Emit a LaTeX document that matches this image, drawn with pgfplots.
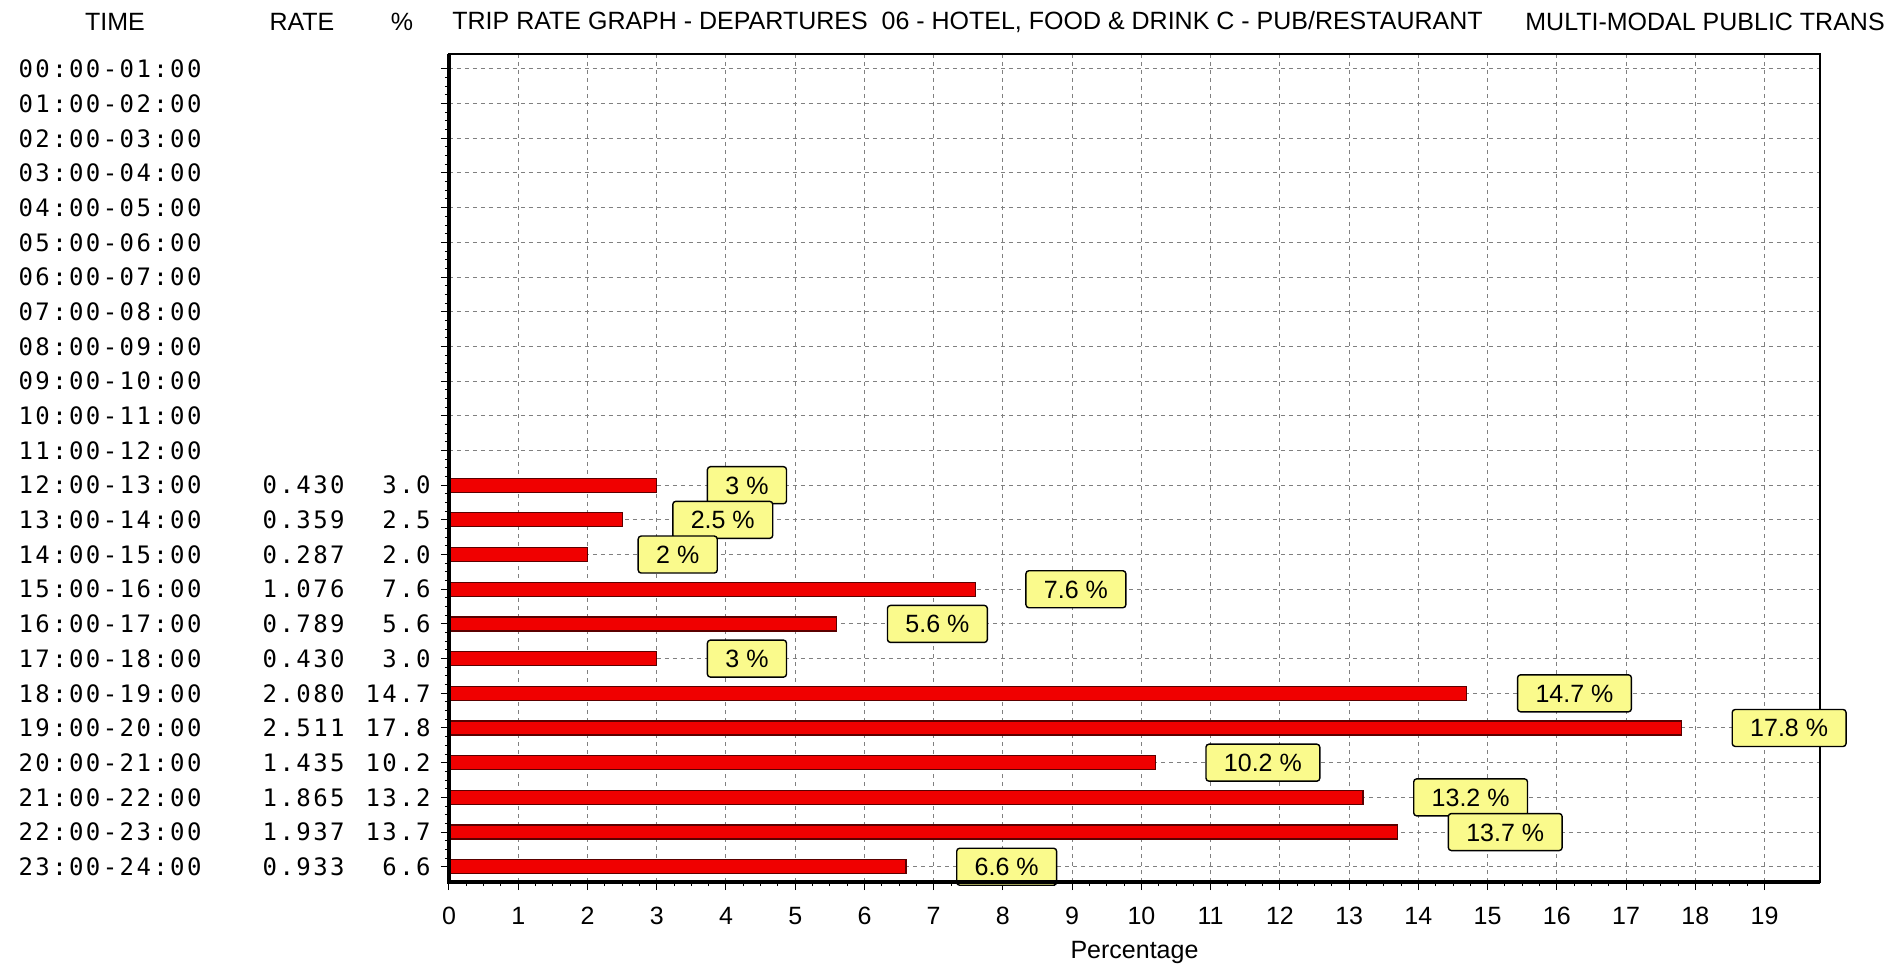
\documentclass[border=0pt]{standalone}
\usepackage{pgfplots}
\pgfplotsset{compat=1.18}
\usepackage{pgfplotstable}
\usepackage{fontspec}
\setmainfont{Liberation Sans}
\newfontfamily\monofont[LetterSpace=10]{DejaVu Sans Mono}
\definecolor{labelyellow}{RGB}{250,250,140}
\definecolor{barred}{RGB}{240,0,0}
\definecolor{baredge}{RGB}{90,0,0}
\newcommand\rl[3]{\makebox[100pt][l]{#1}\makebox[63pt][r]{#2}\makebox[43pt][r]{#3}}

\pgfplotstableread{
row pct
12 3.0
13 2.5
14 2.0
15 7.6
16 5.6
17 3.0
18 14.7
19 17.8
20 10.2
21 13.2
22 13.7
23 6.6
}\tripdata

\begin{document}
\begin{tikzpicture}
\useasboundingbox (-224.5pt,-43pt) rectangle (723pt,441pt);
\begin{axis}[
  scale only axis, width=685.5pt, height=414pt,
  xbar, bar width=7pt,
  xmin=0, xmax=19.8, ymin=-0.43, ymax=23.44, y dir=reverse,
  xtick={0,...,19}, ytick={0,...,23},
  yticklabels={
    \rl{00:00-01:00}{}{},\rl{01:00-02:00}{}{},\rl{02:00-03:00}{}{},
    \rl{03:00-04:00}{}{},\rl{04:00-05:00}{}{},\rl{05:00-06:00}{}{},
    \rl{06:00-07:00}{}{},\rl{07:00-08:00}{}{},\rl{08:00-09:00}{}{},
    \rl{09:00-10:00}{}{},\rl{10:00-11:00}{}{},\rl{11:00-12:00}{}{},
    \rl{12:00-13:00}{0.430}{3.0},\rl{13:00-14:00}{0.359}{2.5},
    \rl{14:00-15:00}{0.287}{2.0},\rl{15:00-16:00}{1.076}{7.6},
    \rl{16:00-17:00}{0.789}{5.6},\rl{17:00-18:00}{0.430}{3.0},
    \rl{18:00-19:00}{2.080}{14.7},\rl{19:00-20:00}{2.511}{17.8},
    \rl{20:00-21:00}{1.435}{10.2},\rl{21:00-22:00}{1.865}{13.2},
    \rl{22:00-23:00}{1.937}{13.7},\rl{23:00-24:00}{0.933}{6.6}},
  minor x tick num=3, minor y tick num=3,
  tick align=outside, tick pos=left,
  major tick length=4pt, minor tick length=2pt,
  tick style={black, line width=0.5pt},
  grid=major,
  major grid style={gray, dash pattern=on 2pt off 2pt, line width=0.5pt},
  axis line style={line width=0.8pt},
  /pgf/number format/assume math mode=true,
  xticklabel style={font=\fontsize{12.5}{14}\selectfont, yshift=-5pt},
  yticklabel style={font=\monofont\fontsize{12}{13}\selectfont, anchor=east, inner sep=0pt, xshift=-5pt},
  xlabel={Percentage},
  xlabel style={font=\fontsize{12.5}{14}\selectfont, at={(axis description cs:0.5,0)}, anchor=center, yshift=-35pt},
  clip=false,
  point meta=x,
  nodes near coords={\pgfmathprintnumber[assume math mode=true]{\pgfplotspointmeta}\ \%},
  every node near coord/.append style={anchor=west, xshift=25pt, draw=black, fill=labelyellow,
    rounded corners=1.5pt, inner xsep=9pt, inner ysep=4.75pt, text height=9pt, text depth=0pt,
    font=\fontsize{12.5}{14}\selectfont, line width=0.7pt, text=black},
  after end axis/.code={
    \draw[line width=2.2pt, black] (axis description cs:0,1) -- (axis description cs:0,0) -- (axis description cs:1,0);
  },
]
\addplot[fill=barred, draw=baredge, line width=0.6pt] table[x=pct, y=row] {\tripdata};
\end{axis}
\begin{scope}[every node/.style={font=\fontsize{12.5}{14}\selectfont, inner sep=0pt}]
\node at (-167pt,430pt) {TIME};
\node at (-73.5pt,430pt) {RATE};
\node at (-23.5pt,430pt) {\%};
\node[anchor=west] at (1.5pt,430pt) {TRIP RATE GRAPH - DEPARTURES\ \ 06 - HOTEL, FOOD \& DRINK C - PUB/RESTAURANT};
\node[anchor=west] at (538pt,430pt) {MULTI-MODAL PUBLIC TRANS};
\end{scope}
\end{tikzpicture}
\end{document}
